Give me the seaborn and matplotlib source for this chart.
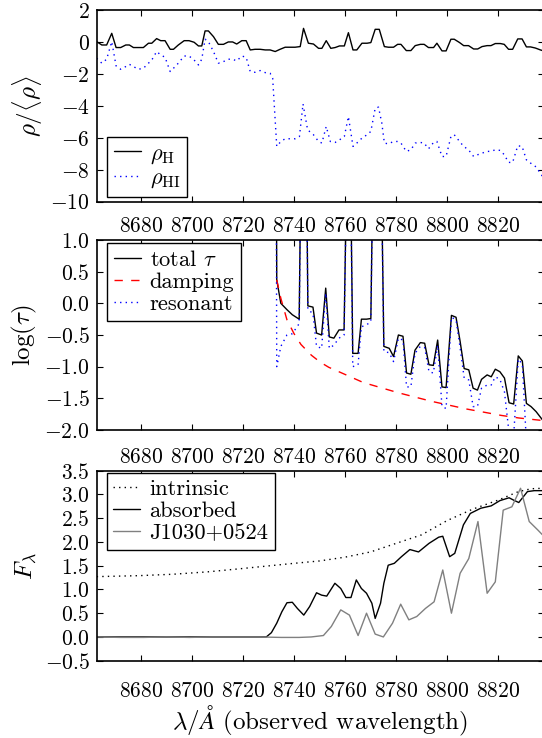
import matplotlib
matplotlib.use("Agg")
import matplotlib.pyplot as plt
import seaborn as sns

# ---------------- data ----------------
xticks = [8680, 8700, 8720, 8740, 8760, 8780, 8800, 8820]
xlim = (8662.6, 8837.8)

# panel 1: rho_H
rhoH_wl = [8662.6, 8664.6, 8666.5, 8668.5, 8670.2, 8672.0, 8674.0, 8675.4, 8677.0, 8678.9,
           8680.9, 8682.9, 8684.2, 8686.1, 8687.7, 8689.4, 8691.4, 8692.7, 8694.6, 8696.9,
           8698.8, 8700.8, 8702.5, 8703.8, 8705.1, 8706.4, 8708.4, 8710.3, 8712.3, 8714.2,
           8715.9, 8717.5, 8719.5, 8721.2, 8722.8, 8724.7, 8726.7, 8728.7, 8730.6, 8732.6,
           8734.5, 8736.5, 8738.5, 8740.4, 8742.4, 8743.7, 8745.6, 8747.6, 8749.6, 8750.9,
           8752.6, 8754.4, 8756.1, 8757.8, 8759.7, 8761.3, 8763.1, 8764.6, 8766.6, 8768.6,
           8770.1, 8771.8, 8773.4, 8775.4, 8777.0, 8779.0, 8780.6, 8781.9, 8784.0, 8785.8,
           8787.5, 8789.5, 8791.0, 8792.7, 8794.7, 8796.0, 8798.0, 8799.6, 8801.5, 8802.8,
           8804.9, 8806.5, 8808.4, 8810.4, 8812.0, 8813.7, 8815.7, 8817.2, 8818.9, 8820.9,
           8822.4, 8824.1, 8825.7, 8827.7, 8829.4, 8831.1, 8832.7, 8834.6, 8836.6, 8837.4]
rhoH = [0.02, -0.19, -0.19, 0.54, -0.35, -0.35, -0.19, -0.19, -0.35, -0.35,
        -0.35, -0.08, -0.08, 0.21, 0.08, 0.08, -0.46, -0.46, -0.19, 0.08,
        0.08, -0.02, -0.25, -0.25, 0.69, 0.69, 0.33, -0.15, -0.15, 0.0,
        0.0, -0.13, 0.08, 0.08, -0.5, -0.46, -0.46, -0.5, -0.5, -0.6,
        -0.46, -0.33, -0.33, -0.33, -0.29, 0.85, -0.08, -0.13, -0.4, -0.4,
        0.08, -0.4, -0.35, -0.25, -0.25, 0.58, -0.5, -0.5, -0.08, -0.08,
        -0.04, 0.79, 0.79, -0.29, -0.33, -0.33, -0.15, -0.15, -0.54, -0.54,
        -0.23, -0.15, -0.15, -0.35, -0.35, -0.08, -0.56, -0.56, 0.17, 0.17,
        -0.04, -0.23, -0.23, -0.44, -0.44, -0.29, -0.23, -0.23, -0.1, -0.1,
        -0.15, -0.46, -0.46, 0.19, 0.19, -0.31, -0.31, -0.38, -0.5, -0.54]

# panel 1: rho_HI
rhoHI_wl = [8662.6, 8664.6, 8666.5, 8668.5, 8670.2, 8672.0, 8674.0, 8675.4, 8677.0, 8678.9,
            8680.9, 8682.9, 8684.2, 8686.1, 8687.7, 8689.4, 8691.4, 8692.7, 8694.6, 8696.9,
            8698.8, 8700.8, 8702.5, 8703.8, 8705.1, 8706.4, 8708.4, 8710.3, 8712.3, 8714.2,
            8715.9, 8717.5, 8719.5, 8721.2, 8722.8, 8724.7, 8726.7, 8728.7, 8730.6, 8731.6,
            8733.2, 8734.8, 8736.5, 8738.5, 8740.4, 8742.1, 8743.5, 8745.3, 8747.6, 8749.6,
            8750.9, 8752.6, 8754.2, 8756.1, 8757.8, 8759.7, 8761.3, 8763.1, 8764.6, 8766.6,
            8768.6, 8770.1, 8771.8, 8773.1, 8774.4, 8775.4, 8777.0, 8779.0, 8780.6, 8781.9,
            8784.0, 8785.8, 8787.5, 8789.5, 8791.0, 8792.7, 8794.7, 8796.0, 8798.0, 8799.6,
            8801.5, 8802.8, 8804.9, 8806.5, 8808.4, 8810.4, 8812.0, 8813.7, 8815.7, 8817.2,
            8818.9, 8820.9, 8822.4, 8824.1, 8825.7, 8827.7, 8829.4, 8831.1, 8832.7, 8834.6,
            8836.6, 8837.4]
rhoHI = [-1.02, -1.33, -1.08, 0.02, -1.5, -1.71, -1.54, -1.4, -1.54, -1.71,
         -1.65, -1.33, -1.13, -0.6, -0.81, -0.96, -1.85, -1.65, -1.33, -0.88,
         -0.88, -1.13, -1.44, -1.08, 0.17, 0.02, -0.6, -1.33, -1.23, -1.08,
         -1.08, -1.19, -0.88, -0.96, -1.85, -1.9, -1.79, -1.92, -1.96, -2.27,
         -6.54, -6.23, -6.06, -6.06, -6.06, -5.92, -3.88, -5.5, -5.81, -6.23,
         -6.33, -5.29, -6.23, -6.29, -6.13, -5.92, -4.67, -6.54, -6.33, -6.02,
         -5.81, -5.6, -4.15, -4.08, -5.08, -6.33, -6.38, -6.23, -6.23, -6.33,
         -6.85, -6.75, -6.33, -6.29, -6.33, -6.69, -6.29, -6.23, -7.17, -7.17,
         -5.92, -5.81, -6.23, -6.54, -6.75, -7.17, -7.06, -6.96, -6.85, -6.85,
         -6.75, -6.79, -7.06, -7.54, -7.54, -6.5, -6.54, -7.38, -7.58, -7.79,
         -8.21, -8.42]

# panel 2: optical depth (values above 1 are off the top of the axes)
tau_wl = [8662.6, 8732.8, 8733.2, 8734.8, 8737.2, 8739.3, 8742.0, 8742.9, 8744.7, 8745.4,
          8747.4, 8748.8, 8750.8, 8752.4, 8753.8, 8755.6, 8757.6, 8759.6, 8761.0, 8761.9,
          8763.0, 8765.1, 8766.4, 8768.4, 8770.1, 8771.2, 8773.9, 8775.2, 8777.3, 8779.0,
          8780.9, 8782.7, 8784.1, 8785.8, 8787.4, 8789.5, 8791.2, 8792.9, 8794.6, 8796.3,
          8798.0, 8799.6, 8801.7, 8803.5, 8805.1, 8806.7, 8808.5, 8810.2, 8811.9, 8813.5,
          8815.7, 8817.3, 8818.9, 8820.7, 8822.5, 8824.3, 8826.1, 8827.9, 8829.5, 8831.1,
          8832.9, 8834.9, 8837.4]
tau_total = [5, 5, 0.37, 0.0, -0.1, -0.18, -0.25, 3, 3, -0.04,
             -0.06, -0.47, -0.5, 0.24, -0.53, -0.55, -0.42, -0.42, 3, 3,
             -0.79, -0.79, -0.25, -0.25, -0.24, 3, 3, -0.68, -0.71, -0.84,
             -0.5, -0.52, -1.1, -1.12, -0.74, -0.62, -0.63, -0.97, -0.98, -0.58,
             -1.32, -1.33, -0.19, -0.22, -0.6, -1.03, -1.05, -1.34, -1.37, -1.2,
             -1.13, -1.16, -1.04, -1.08, -1.18, -1.57, -1.59, -0.83, -0.91, -1.58,
             -1.63, -1.71, -1.84]
tau_res = [5, 5, -1.0, -0.68, -0.5, -0.48, -0.32, 3, 3, -0.1,
           -0.16, -0.68, -0.71, 0.16, -0.71, -0.66, -0.55, -0.5, 3, 3,
           -1.0, -0.97, -0.37, -0.34, -0.29, 3, 3, -0.76, -0.78, -0.92,
           -0.55, -0.58, -1.32, -1.32, -0.79, -0.68, -0.7, -1.08, -1.1, -0.66,
           -1.63, -1.66, -0.22, -0.26, -0.7, -1.18, -1.21, -1.63, -1.63, -1.34,
           -1.29, -1.29, -1.16, -1.2, -1.4, -2.05, -2.1, -0.88, -0.96, -2.2,
           -2.3, -2.2, -2.6]
damp_wl = [8733.2, 8734.8, 8737.2, 8740.0, 8742.7, 8746.8, 8750.3, 8753.6, 8760.4, 8767.1,
           8773.9, 8780.7, 8787.4, 8794.2, 8801.0, 8807.8, 8814.6, 8821.3, 8828.1, 8837.4]
tau_damp = [0.37, 0.08, -0.26, -0.48, -0.65, -0.82, -0.93, -1.01, -1.13, -1.25,
            -1.33, -1.41, -1.48, -1.55, -1.61, -1.67, -1.72, -1.77, -1.81, -1.85]

# panel 3: flux
intr_wl = [8662.6, 8679.0, 8692.5, 8706.0, 8719.6, 8740.0, 8750.0, 8760.0, 8770.0, 8780.0,
           8790.0, 8800.0, 8810.0, 8820.0, 8828.0, 8833.0, 8837.4]
f_intr = [1.27, 1.29, 1.32, 1.37, 1.44, 1.55, 1.60, 1.68, 1.79, 1.97,
          2.15, 2.45, 2.69, 2.88, 3.06, 3.12, 3.13]
abs_wl = [8662.6, 8729.1, 8731.1, 8733.2, 8735.2, 8737.2, 8739.3, 8741.3, 8743.8, 8746.1,
          8748.8, 8750.8, 8752.8, 8756.0, 8758.3, 8760.3, 8762.3, 8764.4, 8766.4, 8768.4,
          8770.5, 8771.8, 8773.9, 8775.2, 8776.9, 8779.3, 8782.1, 8785.4, 8788.8, 8792.9,
          8796.7, 8798.3, 8801.0, 8803.0, 8806.4, 8809.1, 8813.2, 8817.3, 8820.7, 8824.3,
          8826.1, 8828.1, 8831.5, 8834.2, 8837.4]
f_abs = [0.0, 0.0, 0.09, 0.29, 0.53, 0.72, 0.73, 0.6, 0.46, 0.64,
         0.93, 0.88, 0.86, 1.13, 1.02, 0.83, 0.83, 1.2, 1.02, 0.92,
         0.71, 0.39, 0.71, 1.13, 1.51, 1.55, 1.69, 1.84, 1.79, 1.97,
         2.1, 2.12, 1.69, 1.76, 2.36, 2.6, 2.71, 2.76, 2.87, 2.93,
         2.88, 2.83, 3.06, 3.08, 3.08]
qso_wl = [8662.6, 8672.0, 8681.0, 8690.0, 8699.0, 8708.0, 8717.0, 8726.0, 8735.0, 8742.0,
          8746.7, 8751.5, 8754.6, 8758.3, 8761.7, 8765.1, 8768.4, 8771.8, 8775.0, 8778.6,
          8781.8, 8785.0, 8788.1, 8791.5, 8794.9, 8798.3, 8801.7, 8805.1, 8808.5, 8812.1,
          8815.7, 8818.9, 8822.0, 8825.4, 8828.8, 8832.2, 8835.6, 8837.4]
f_qso = [0.0, -0.01, -0.01, 0.0, -0.01, 0.0, 0.0, 0.0, -0.01, -0.01,
         0.0, 0.03, 0.22, 0.57, 0.46, 0.03, 0.5, 0.06, 0.0, 0.29,
         0.69, 0.36, 0.43, 0.6, 0.74, 1.41, 0.5, 1.34, 1.65, 2.43,
         0.92, 1.16, 2.67, 2.74, 3.13, 2.43, 2.25, 2.15]

# ---------------- style ----------------
sns.set_style("ticks")
plt.rcParams.update({
    "font.family": ["cmr10", "DejaVu Serif"],
    "mathtext.fontset": "cm",
    "axes.formatter.use_mathtext": True,
    "axes.unicode_minus": True,
    "axes.edgecolor": "black",
    "axes.linewidth": 1.2,
    "axes.facecolor": "white",
    "axes.grid": False,
    "xtick.color": "black",
    "ytick.color": "black",
    "xtick.direction": "in",
    "ytick.direction": "in",
    "xtick.top": True,
    "ytick.right": True,
    "xtick.major.size": 4,
    "ytick.major.size": 4,
    "xtick.major.width": 0.8,
    "ytick.major.width": 0.8,
    "xtick.minor.visible": False,
    "ytick.minor.visible": False,
    "text.color": "black",
    "axes.labelcolor": "black",
})

TICK_FS = 15.5
LAB_FS = 18
LEG_FS = 16.2
DOT = (0, (1, 3))
DASH = (0, (6, 6))

fig = plt.figure(figsize=(5.42, 7.38), dpi=100)
L = 96.7 / 542
W = (543.5 - 96.7) / 542
ax1 = fig.add_axes([L, 1 - 201.7 / 738, W, 191.7 / 738])
ax2 = fig.add_axes([L, 1 - 430.0 / 738, W, 190.0 / 738])
ax3 = fig.add_axes([L, 1 - 660.7 / 738, W, 190.0 / 738])


def legend(ax, loc, anchor):
    leg = ax.legend(loc=loc, bbox_to_anchor=anchor, borderaxespad=0,
                    fontsize=LEG_FS, frameon=True, fancybox=False, shadow=False,
                    framealpha=1, edgecolor="black", handlelength=1.2,
                    handletextpad=0.4, borderpad=0.3, labelspacing=0.1)
    leg.get_frame().set_linewidth(1.0)
    return leg


kw = dict(estimator=None, errorbar=None, sort=False)

# ---- panel 1 ----
sns.lineplot(x=rhoH_wl, y=rhoH, ax=ax1, color="black", lw=1.0,
             label=r"$\rho_{\rm H}$", **kw)
sns.lineplot(x=rhoHI_wl, y=rhoHI, ax=ax1, color="blue", lw=1.0, linestyle=DOT,
             label=r"$\rho_{\rm HI}$", **kw)
ax1.set_ylim(-10, 2)
ax1.set_yticks([-10, -8, -6, -4, -2, 0, 2])
ax1.set_ylabel(r"$\rho/\langle\rho\rangle$", fontsize=LAB_FS)
ax1.tick_params(axis="x", labelbottom=False, labeltop=False)
legend(ax1, "lower left", (0.023, 0.026))

# ---- panel 2 ----
sns.lineplot(x=tau_wl, y=tau_total, ax=ax2, color="black", lw=1.0,
             label=r"total $\tau$", **kw)
sns.lineplot(x=damp_wl, y=tau_damp, ax=ax2, color="red", lw=1.0, linestyle=DASH,
             label="damping", **kw)
sns.lineplot(x=tau_wl, y=tau_res, ax=ax2, color="blue", lw=1.0, linestyle=DOT,
             label="resonant", **kw)
ax2.set_ylim(-2, 1)
ax2.set_yticks([-2.0, -1.5, -1.0, -0.5, 0.0, 0.5, 1.0])
ax2.set_ylabel(r"$\log(\tau)$", fontsize=LAB_FS)
ax2.tick_params(axis="x", labelbottom=False, labeltop=True, pad=3)
legend(ax2, "upper left", (0.023, 0.983))

# ---- panel 3 ----
sns.lineplot(x=intr_wl, y=f_intr, ax=ax3, color="black", lw=1.0, linestyle=DOT,
             label="intrinsic", **kw)
sns.lineplot(x=abs_wl, y=f_abs, ax=ax3, color="black", lw=1.0,
             label="absorbed", **kw)
sns.lineplot(x=qso_wl, y=f_qso, ax=ax3, color="0.5", lw=1.0,
             label="J1030+0524", **kw)
ax3.set_ylim(-0.5, 3.5)
ax3.set_yticks([-0.5, 0.0, 0.5, 1.0, 1.5, 2.0, 2.5, 3.0, 3.5])
ax3.set_ylabel(r"$F_\lambda$", fontsize=LAB_FS)
ax3.set_xlabel(r"$\lambda/\AA$ (observed wavelength)", fontsize=LAB_FS, labelpad=2)
ax3.tick_params(axis="x", labelbottom=True, labeltop=False, pad=15)
legend(ax3, "upper left", (0.022, 0.99))
sec = ax3.secondary_xaxis("top")
sec.set_xticks(xticks)
sec.tick_params(axis="x", length=0, pad=3, labelsize=TICK_FS)
sec.spines["top"].set_visible(False)

for ax in (ax1, ax2, ax3):
    ax.set_xlim(*xlim)
    ax.set_xticks(xticks)
    ax.tick_params(labelsize=TICK_FS)
    ax.tick_params(axis="y", pad=5)
    for s in ax.spines.values():
        s.set_color("black")
        s.set_linewidth(1.2)

fig.savefig("out.png", dpi=100)
